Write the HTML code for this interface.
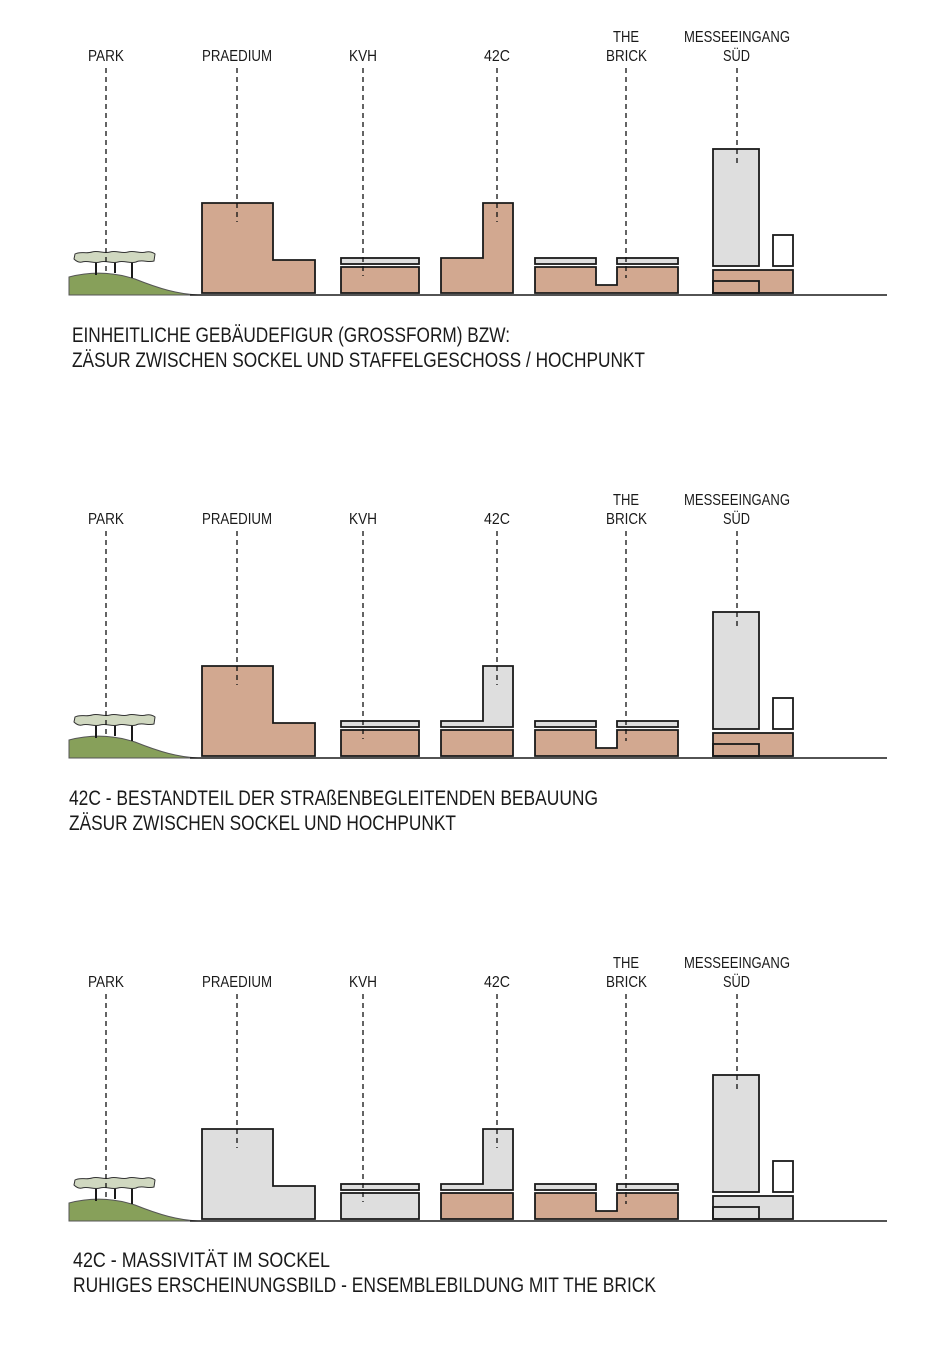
<!DOCTYPE html>
<html><head><meta charset="utf-8">
<style>
html,body{margin:0;padding:0;background:#fff;}
svg{display:block;}
text{font-family:"Liberation Sans Narrow","Liberation Sans",sans-serif;fill:#1a1a1a;}
.lab{font-size:16px;}
.cap{font-size:21px;}
.b{stroke:#1a1a1a;stroke-width:1.8;}
.d{stroke:#111;stroke-width:1.3;stroke-dasharray:5,4;fill:none;}
</style></head>
<body>
<svg width="932" height="1346" viewBox="0 0 932 1346" xmlns="http://www.w3.org/2000/svg">
<defs>
<g id="land">
  <path d="M69,295 L69,277 C88,272 110,271 135,279 C160,289 178,294 198,295 Z" fill="#87a05a" stroke="#555" stroke-width="1"/>
  <path d="M96,262 L96,275 M115,262 L115,273 M132,262 L132,278" stroke="#1a1a1a" stroke-width="2"/>
  <path d="M75,254 C80,251 86,254 92,252 C98,250 104,254 110,252 C116,250 122,254 128,252 C134,250 140,254 146,252 C150,251 154,253 155,254 L154,261 C148,263 142,259 136,262 C130,264 124,260 118,262 C112,264 106,260 100,262 C94,264 88,260 82,262 C78,263 75,260 74,259 Z" fill="#d0d8c0" stroke="#333" stroke-width="1"/>
  <line x1="190" y1="295" x2="887" y2="295" stroke="#1a1a1a" stroke-width="1.6"/>
  <line class="d" x1="106" y1="68" x2="106" y2="272"/>
  <line class="d" x1="237" y1="68" x2="237" y2="222"/>
  <line class="d" x1="363" y1="68" x2="363" y2="276"/>
  <line class="d" x1="497" y1="68" x2="497" y2="222"/>
  <line class="d" x1="626" y1="68" x2="626" y2="278"/>
  <line class="d" x1="737" y1="68" x2="737" y2="166"/>
  <rect class="b" x="773" y="235" width="20" height="31" fill="#fff"/>
</g>
</defs>

<!-- Panel 1 -->
<g>
  <text class="lab" x="88" y="61" textLength="36" lengthAdjust="spacingAndGlyphs">PARK</text>
  <text class="lab" x="202" y="61" textLength="70" lengthAdjust="spacingAndGlyphs">PRAEDIUM</text>
  <text class="lab" x="349" y="61" textLength="28" lengthAdjust="spacingAndGlyphs">KVH</text>
  <text class="lab" x="484" y="61" textLength="26" lengthAdjust="spacingAndGlyphs">42C</text>
  <text class="lab" x="613" y="42" textLength="26" lengthAdjust="spacingAndGlyphs">THE</text>
  <text class="lab" x="606" y="61" textLength="41" lengthAdjust="spacingAndGlyphs">BRICK</text>
  <text class="lab" x="684" y="42" textLength="106" lengthAdjust="spacingAndGlyphs">MESSEEINGANG</text>
  <text class="lab" x="723" y="61" textLength="27" lengthAdjust="spacingAndGlyphs">SÜD</text>
  <path class="b" d="M202,293 L202,203 L273,203 L273,260 L315,260 L315,293 Z" fill="#d2a890"/>
  <rect class="b" x="341" y="258" width="78" height="6" fill="#dedede"/>
  <rect class="b" x="341" y="267" width="78" height="26" fill="#d2a890"/>
  <path class="b" d="M441,293 L441,258 L483,258 L483,203 L513,203 L513,293 Z" fill="#d2a890"/>
  <rect class="b" x="535" y="258" width="61" height="6" fill="#dedede"/>
  <rect class="b" x="617" y="258" width="61" height="6" fill="#dedede"/>
  <path class="b" d="M535,293 L535,267 L596,267 L596,285 L617,285 L617,267 L678,267 L678,293 Z" fill="#d2a890"/>
  <rect class="b" x="713" y="149" width="46" height="117" fill="#dedede"/>
  <rect class="b" x="713" y="270" width="80" height="23" fill="#d2a890"/>
  <rect class="b" x="713" y="281" width="46" height="12" fill="none"/>
  <use href="#land"/>
  <text class="cap" x="72" y="342" textLength="438" lengthAdjust="spacingAndGlyphs">EINHEITLICHE GEBÄUDEFIGUR (GROSSFORM) BZW:</text>
  <text class="cap" x="72" y="367" textLength="573" lengthAdjust="spacingAndGlyphs">ZÄSUR ZWISCHEN SOCKEL UND STAFFELGESCHOSS / HOCHPUNKT</text>
</g>

<!-- Panel 2 -->
<g transform="translate(0,463)">
  <text class="lab" x="88" y="61" textLength="36" lengthAdjust="spacingAndGlyphs">PARK</text>
  <text class="lab" x="202" y="61" textLength="70" lengthAdjust="spacingAndGlyphs">PRAEDIUM</text>
  <text class="lab" x="349" y="61" textLength="28" lengthAdjust="spacingAndGlyphs">KVH</text>
  <text class="lab" x="484" y="61" textLength="26" lengthAdjust="spacingAndGlyphs">42C</text>
  <text class="lab" x="613" y="42" textLength="26" lengthAdjust="spacingAndGlyphs">THE</text>
  <text class="lab" x="606" y="61" textLength="41" lengthAdjust="spacingAndGlyphs">BRICK</text>
  <text class="lab" x="684" y="42" textLength="106" lengthAdjust="spacingAndGlyphs">MESSEEINGANG</text>
  <text class="lab" x="723" y="61" textLength="27" lengthAdjust="spacingAndGlyphs">SÜD</text>
  <path class="b" d="M202,293 L202,203 L273,203 L273,260 L315,260 L315,293 Z" fill="#d2a890"/>
  <rect class="b" x="341" y="258" width="78" height="6" fill="#dedede"/>
  <rect class="b" x="341" y="267" width="78" height="26" fill="#d2a890"/>
  <path class="b" d="M441,264 L441,258 L483,258 L483,203 L513,203 L513,264 Z" fill="#dedede"/>
  <rect class="b" x="441" y="267" width="72" height="26" fill="#d2a890"/>
  <rect class="b" x="535" y="258" width="61" height="6" fill="#dedede"/>
  <rect class="b" x="617" y="258" width="61" height="6" fill="#dedede"/>
  <path class="b" d="M535,293 L535,267 L596,267 L596,285 L617,285 L617,267 L678,267 L678,293 Z" fill="#d2a890"/>
  <rect class="b" x="713" y="149" width="46" height="117" fill="#dedede"/>
  <rect class="b" x="713" y="270" width="80" height="23" fill="#d2a890"/>
  <rect class="b" x="713" y="281" width="46" height="12" fill="none"/>
  <use href="#land"/>
  <text class="cap" x="69" y="342" textLength="529" lengthAdjust="spacingAndGlyphs">42C - BESTANDTEIL DER STRAßENBEGLEITENDEN BEBAUUNG</text>
  <text class="cap" x="69" y="367" textLength="387" lengthAdjust="spacingAndGlyphs">ZÄSUR ZWISCHEN SOCKEL UND HOCHPUNKT</text>
</g>

<!-- Panel 3 -->
<g transform="translate(0,926)">
  <text class="lab" x="88" y="61" textLength="36" lengthAdjust="spacingAndGlyphs">PARK</text>
  <text class="lab" x="202" y="61" textLength="70" lengthAdjust="spacingAndGlyphs">PRAEDIUM</text>
  <text class="lab" x="349" y="61" textLength="28" lengthAdjust="spacingAndGlyphs">KVH</text>
  <text class="lab" x="484" y="61" textLength="26" lengthAdjust="spacingAndGlyphs">42C</text>
  <text class="lab" x="613" y="42" textLength="26" lengthAdjust="spacingAndGlyphs">THE</text>
  <text class="lab" x="606" y="61" textLength="41" lengthAdjust="spacingAndGlyphs">BRICK</text>
  <text class="lab" x="684" y="42" textLength="106" lengthAdjust="spacingAndGlyphs">MESSEEINGANG</text>
  <text class="lab" x="723" y="61" textLength="27" lengthAdjust="spacingAndGlyphs">SÜD</text>
  <path class="b" d="M202,293 L202,203 L273,203 L273,260 L315,260 L315,293 Z" fill="#dedede"/>
  <rect class="b" x="341" y="258" width="78" height="6" fill="#dedede"/>
  <rect class="b" x="341" y="267" width="78" height="26" fill="#dedede"/>
  <path class="b" d="M441,264 L441,258 L483,258 L483,203 L513,203 L513,264 Z" fill="#dedede"/>
  <rect class="b" x="441" y="267" width="72" height="26" fill="#d2a890"/>
  <rect class="b" x="535" y="258" width="61" height="6" fill="#dedede"/>
  <rect class="b" x="617" y="258" width="61" height="6" fill="#dedede"/>
  <path class="b" d="M535,293 L535,267 L596,267 L596,285 L617,285 L617,267 L678,267 L678,293 Z" fill="#d2a890"/>
  <rect class="b" x="713" y="149" width="46" height="117" fill="#dedede"/>
  <rect class="b" x="713" y="270" width="80" height="23" fill="#dedede"/>
  <rect class="b" x="713" y="281" width="46" height="12" fill="none"/>
  <use href="#land"/>
  <text class="cap" x="73" y="341" textLength="257" lengthAdjust="spacingAndGlyphs">42C - MASSIVITÄT IM SOCKEL</text>
  <text class="cap" x="73" y="366" textLength="583" lengthAdjust="spacingAndGlyphs">RUHIGES ERSCHEINUNGSBILD - ENSEMBLEBILDUNG MIT THE BRICK</text>
</g>
</svg>
</body></html>
